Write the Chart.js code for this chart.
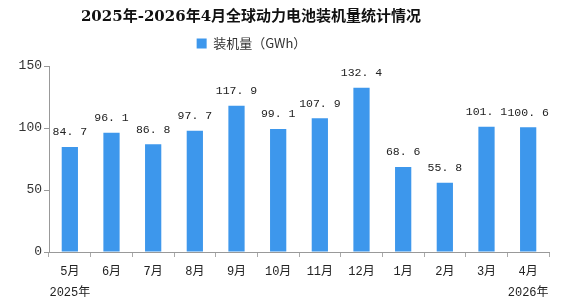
<!DOCTYPE html>
<html>
<head>
<meta charset="utf-8">
<script src="https://cdn.jsdelivr.net/npm/chart.js@4"></script>
<style>
  html, body { margin: 0; padding: 0; background: #fff; }
  #wrap { width: 582px; height: 302px; }
</style>
</head>
<body>
<div id="wrap"><canvas id="batteryChart" width="582" height="302"></canvas></div>
<script>
// data
const months = ['5月', '6月', '7月', '8月', '9月', '10月', '11月', '12月', '1月', '2月', '3月', '4月'];
const yearLabels = ['2025年', '', '', '', '', '', '', '', '', '', '', '2026年'];
const installed = [84.7, 96.1, 86.8, 97.7, 117.9, 99.1, 107.9, 132.4, 68.6, 55.8, 101.1, 100.6];
const yTicks = [0, 50, 100, 150];

const titleText = '2025年-2026年4月全球动力电池装机量统计情况';
const seriesName = '装机量（GWh）';
const tickFont = '"Liberation Mono", "Noto Sans CJK SC", monospace';

// the title and legend sit left of the canvas centre in the reference
const titleShift = -40;
const legendShift = -23;
const legendGap = 6; // extra room between legend and plot

// title drawn by hand so its position can be set freely
const headerPlugin = {
  id: 'headerPlugin',
  beforeLayout(chart) {
    const lg = chart.legend;
    if (lg && !lg._gapPatched) {
      const fit = lg.fit;
      lg.fit = function () {
        fit.call(this);
        this.height += legendGap;
      };
      lg._gapPatched = true;
    }
  },
  afterLayout(chart) {
    const lg = chart.legend;
    if (lg) {
      lg.left += legendShift;
      lg.right += legendShift;
    }
  },
  afterDraw(chart) {
    const ctx = chart.ctx;
    ctx.save();
    ctx.font = 'bold 15px "DejaVu Serif", "Noto Sans CJK SC", serif';
    ctx.fillStyle = '#111';
    ctx.textAlign = 'center';
    ctx.textBaseline = 'middle';
    ctx.fillText(titleText, chart.width / 2 + titleShift, 17);
    ctx.restore();
  }
};

// value labels above each bar
const valueLabels = {
  id: 'valueLabels',
  afterDatasetsDraw(chart) {
    const ctx = chart.ctx;
    const meta = chart.getDatasetMeta(0);
    ctx.save();
    ctx.font = '11.5px ' + tickFont;
    ctx.fillStyle = '#222';
    ctx.textAlign = 'center';
    ctx.textBaseline = 'bottom';
    meta.data.forEach((bar, i) => {
      const txt = installed[i].toFixed(1).replace('.', '. ');
      ctx.fillText(txt, bar.x, bar.y - 9);
    });
    ctx.restore();
  }
};

const ctx = document.getElementById('batteryChart');
new Chart(ctx, {
  type: 'bar',
  data: {
    labels: months.map((m, i) => yearLabels[i] ? [m, yearLabels[i]] : m),
    datasets: [{
      label: seriesName,
      data: installed,
      backgroundColor: '#3d97ec',
      borderWidth: 0,
      barPercentage: 0.39,
      categoryPercentage: 1.0
    }]
  },
  options: {
    responsive: false,
    animation: false,
    layout: { padding: { left: 0, right: 33, top: 16, bottom: 0 } },
    plugins: {
      title: { display: false },
      legend: {
        display: true,
        labels: {
          boxWidth: 10,
          boxHeight: 10,
          color: '#333',
          font: { family: '"Noto Sans CJK SC", sans-serif', size: 13 },
          padding: 21
        }
      },
      tooltip: { enabled: false }
    },
    scales: {
      x: {
        afterFit(axis) { axis.height = 50; },
        grid: {
          display: true,
          drawOnChartArea: false,
          drawTicks: true,
          tickLength: 5,
          offset: true,
          color: '#aaa'
        },
        border: { color: '#999' },
        ticks: {
          color: '#222',
          font: { family: tickFont, size: 12, lineHeight: 1.75 },
          maxRotation: 0,
          autoSkip: false,
          padding: 4
        }
      },
      y: {
        min: 0,
        max: 150,
        afterBuildTicks(axis) {
          axis.ticks = yTicks.map(v => ({ value: v }));
        },
        afterFit(axis) { axis.width = 49; },
        grid: {
          display: true,
          drawOnChartArea: false,
          drawTicks: true,
          tickLength: 5,
          color: '#999'
        },
        border: { color: '#999' },
        ticks: {
          color: '#333',
          font: { family: tickFont, size: 13 },
          padding: 2
        }
      }
    }
  },
  plugins: [valueLabels, headerPlugin]
});
</script>
</body>
</html>
